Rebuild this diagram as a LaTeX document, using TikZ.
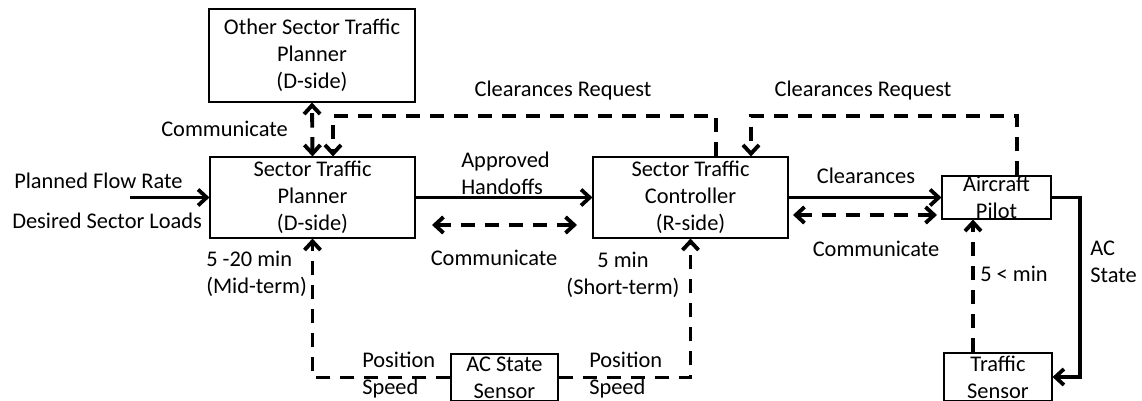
\documentclass[tikz,border=0pt]{standalone}
\usepackage{fontspec}
\setmainfont{Carlito}
\usepackage{tikz}
\usetikzlibrary{arrows.meta}

\tikzset{
  blockbox/.style={draw, line width=0.8pt, align=center, inner sep=0pt},
  lbl/.style={inner sep=0pt, align=center},
  thickarrow/.style={line width=2.8pt, -{Straight Barb[length=6.5pt,width=12pt]}},
  dashline/.style={line width=2.9pt, dash pattern=on 11pt off 7pt},
  tipend/.style={-{Straight Barb[length=6.5pt,width=12pt]}},
  tipboth/.style={{Straight Barb[length=6.5pt,width=12pt]}-{Straight Barb[length=6.5pt,width=12pt]}},
}

\begin{document}
\begin{tikzpicture}[x=0.75pt, y=-0.75pt, font=\fontsize{16.8}{20.25}\selectfont]
	\useasboundingbox (0,0) rectangle (1142,400);
	% Blocks:
	\node[blockbox, minimum width=154.5pt, minimum height=69.75pt](OSTP) at (312, 55.5){Other Sector Traffic\\Planner\\(D-side)};
	\node[blockbox, minimum width=153.75pt, minimum height=60.75pt](STP) at (312.5, 197.5){Sector Traffic\\Planner\\(D-side)};
	\node[blockbox, minimum width=146.25pt, minimum height=60.75pt](STC) at (690.5, 197.5){Sector Traffic\\Controller\\(R-side)};
	\node[blockbox, minimum width=81.75pt, minimum height=32.25pt](ACP) at (996.5, 197.5){Aircraft\\Pilot};
	\node[blockbox, minimum width=81pt, minimum height=36pt](TS) at (998, 377){Traffic\\Sensor};
	\node[blockbox, minimum width=80.25pt, minimum height=35.25pt](ACSS) at (504.5, 377.5){AC State\\Sensor};
	% Turning points and free ends:
	\coordinate (flowin) at (130, 197.5);
	\coordinate (reqA) at (716, 116);
	\coordinate (reqB) at (333, 116);
	\coordinate (reqC) at (1017, 116);
	\coordinate (reqD) at (751, 116);
	\coordinate (comL) at (432, 225);
	\coordinate (comR) at (577, 225);
	\coordinate (comP) at (793, 215);
	\coordinate (comQ) at (937, 215);
	\coordinate (acturn) at (1080, 290);
	\coordinate (sensup) at (973, 300);
	% Solid connectors:
	\draw[thickarrow] (flowin) -- (STP.west);
	\draw[thickarrow] (STP.east) -- (STC.west);
	\draw[thickarrow] (STC.east) -- (ACP.west);
	\draw[thickarrow] (ACP.east) -| (acturn) |- (TS.east);
	% Dashed connectors:
	\draw[dashline, tipboth] (STP.north) -- (OSTP.south);
	\draw[dashline, tipend] (reqA |- STC.north) -- (reqA) -- (reqB) -- (reqB |- STP.north);
	\draw[dashline, tipend] (reqC |- ACP.north) -- (reqC) -- (reqD) -- (reqD |- STC.north);
	\draw[dashline, tipboth] (comL) -- (comR);
	\draw[dashline, tipboth] (comP) -- (comQ);
	\draw[dashline, tipend] (sensup |- TS.north) -- (sensup |- ACP.south);
	\draw[dashline, tipend] (ACSS.west) -| (STP.south);
	\draw[dashline, tipend] (ACSS.east) -| (STC.south);
	% Labels:
	\node[lbl, anchor=west](lflow) at (14, 181){Planned Flow Rate};
	\node[lbl, anchor=west](lloads) at (12, 221){Desired Sector Loads};
	\node[lbl, anchor=east](lcomA) at (288, 129){Communicate};
	\node[lbl](lreqA) at (563, 91){Clearances Request};
	\node[lbl](lreqB) at (863, 91){Clearances Request};
	\node[lbl, anchor=west, align=left](lhand) at (461, 173){Approved\\Handoffs};
	\node[lbl](lcomB) at (494, 258){Communicate};
	\node[lbl](lclr) at (866, 176){Clearances};
	\node[lbl](lcomC) at (876, 249){Communicate};
	\node[lbl, anchor=west, align=left](lstate) at (1090, 262){AC\\State};
	\node[lbl, anchor=west](lfive) at (980, 274){5 < min};
	\node[lbl, anchor=west, align=left](lmid) at (206, 274){5 -20 min\\(Mid-term)};
	\node[lbl](lshort) at (623, 275){5 min\\(Short-term)};
	\node[lbl, anchor=west, align=left](lposA) at (362, 375){Position\\Speed};
	\node[lbl, anchor=west, align=left](lposB) at (589, 375){Position\\Speed};
\end{tikzpicture}
\end{document}
